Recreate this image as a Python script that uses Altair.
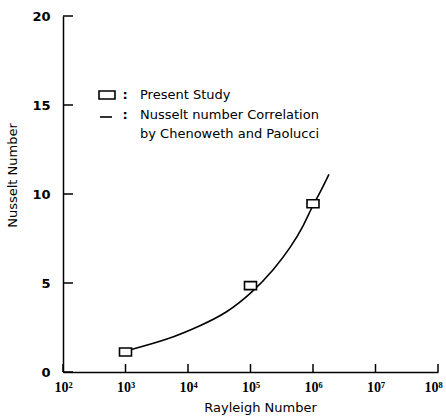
import altair as alt
import pandas as pd

# Data
pts_ra = [1e3, 1e5, 1e6]
pts_nu = [1.12, 4.85, 9.45]

curve_ra = [1.2e3, 4.6e3, 1.55e4, 4.2e4, 1.05e5, 2.3e5, 4.3e5, 6.9e5, 9.5e5, 1.3e6, 1.8e6]
curve_nu = [1.25, 1.85, 2.6, 3.4, 4.5, 5.75, 7.0, 8.2, 9.2, 10.1, 11.1]

x_ticks = [1e2, 1e3, 1e4, 1e5, 1e6, 1e7, 1e8]
x_tick_labels = ["10²", "10³", "10⁴", "10⁵", "10⁶", "10⁷", "10⁸"]
y_ticks = [0, 5, 10, 15, 20]

legend_labels = ["Present Study", "Nusselt number Correlation", "by Chenoweth and Paolucci"]

W, H = 375, 356

pts = pd.DataFrame({"ra": pts_ra, "nu": pts_nu})
curve = pd.DataFrame({"ra": curve_ra, "nu": curve_nu})
xt = pd.DataFrame({"ra": x_ticks})
yt = pd.DataFrame({"nu": y_ticks})

label_map = "{" + ",".join(f"'{int(v)}':'{l}'" for v, l in zip(x_ticks, x_tick_labels)) + "}"

xscale = alt.Scale(type="log", domain=[1e2, 1e8])
yscale = alt.Scale(domain=[0, 20])

xaxis = alt.Axis(
    values=x_ticks, ticks=False, grid=False, domainColor="black", domainWidth=1.5,
    labelExpr=f"{label_map}[''+datum.value]",
    labelFont="Liberation Serif", labelFontWeight="bold", labelFontSize=14, labelColor="black",
    labelPadding=8, labelFlush=False, labelOverlap=False,
    labelOffset={"condition": {"test": "datum.value >= 1e8", "value": -5}, "value": 0},
    title="Rayleigh Number", titleFont="DejaVu Sans", titleFontSize=13, titleFontWeight="normal",
    titleColor="black", titleX=197, titleY=35, titleBaseline="middle", titleAnchor="middle",
)
yaxis = alt.Axis(
    values=y_ticks, ticks=False, grid=False, domainColor="black", domainWidth=1.5,
    labelFont="DejaVu Sans", labelFontWeight="bold", labelFontSize=13, labelColor="black",
    labelPadding=13, labelFlush=False,
    title="Nusselt Number", titleFont="DejaVu Sans", titleFontSize=13, titleFontWeight="normal",
    titleColor="black", titleX=-51, titleY=159, titleBaseline="middle", titleAnchor="middle",
)

line = alt.Chart(curve).mark_line(color="black", strokeWidth=1.6, interpolate="natural").encode(
    x=alt.X("ra:Q", scale=xscale, axis=xaxis),
    y=alt.Y("nu:Q", scale=yscale, axis=yaxis),
)

rect_shape = "M-1.5,-1L1.5,-1L1.5,1L-1.5,1Z"
points = alt.Chart(pts).mark_point(
    shape=rect_shape, size=64, filled=True, fill="white", stroke="black", strokeWidth=1.6, opacity=1
).encode(x=alt.X("ra:Q", scale=xscale), y=alt.Y("nu:Q", scale=yscale))

xticks = alt.Chart(xt).mark_rule(color="black", strokeWidth=1.5).encode(
    x=alt.X("ra:Q", scale=xscale), y=alt.value(H), y2=alt.value(H - 8)
)
yticks = alt.Chart(yt).mark_rule(color="black", strokeWidth=1.5).encode(
    y=alt.Y("nu:Q", scale=yscale), x=alt.value(0), x2=alt.value(10)
)

# Legend (drawn manually)
leg_df = pd.DataFrame({"t": legend_labels, "yy": [79, 99, 118]})
leg_text = alt.Chart(leg_df).mark_text(
    align="left", baseline="middle", font="DejaVu Sans", fontSize=13, color="black"
).encode(x=alt.value(77), y=alt.Y("yy:Q", scale=None), text="t:N")

colon_df = pd.DataFrame({"t": [":", ":"], "yy": [79, 99]})
colons = alt.Chart(colon_df).mark_text(
    align="center", baseline="middle", font="DejaVu Sans", fontSize=13, fontWeight="bold", color="black"
).encode(x=alt.value(62), y=alt.Y("yy:Q", scale=None), text="t:N")

leg_sym = alt.Chart(pd.DataFrame({"k": [0]})).mark_point(
    shape="M-2,-1L2,-1L2,1L-2,1Z", size=64, filled=True, fill="white", stroke="black", strokeWidth=1.6, opacity=1
).encode(x=alt.value(44), y=alt.value(79))

leg_line = alt.Chart(pd.DataFrame({"k": [0]})).mark_rule(color="black", strokeWidth=1.6).encode(
    x=alt.value(37), x2=alt.value(49), y=alt.value(101)
)

chart = alt.layer(line, points, xticks, yticks, leg_text, colons, leg_sym, leg_line).properties(
    width=W, height=H,
    autosize=alt.AutoSizeParams(type="none"),
    padding={"left": 63, "top": 16, "right": 8, "bottom": 47},
    background="white",
).configure_view(stroke=None)

chart.save("out.html", embed_options={"renderer": "svg", "actions": False})
